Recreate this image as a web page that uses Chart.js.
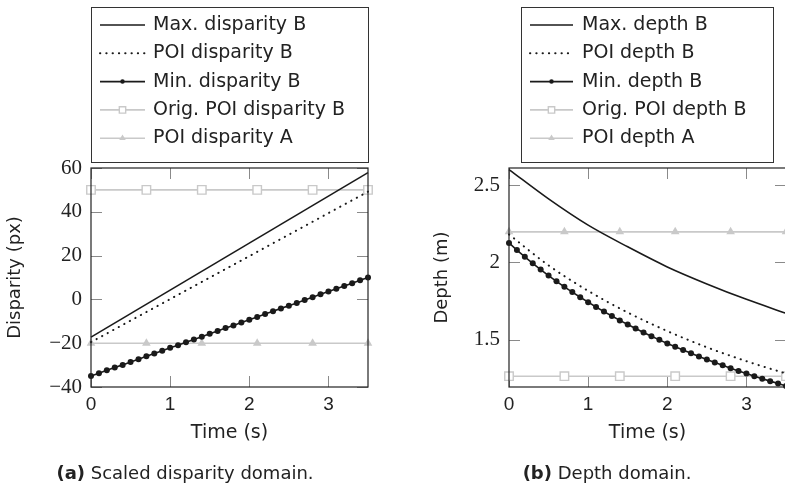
<!DOCTYPE html>
<html>
<head>
<meta charset="utf-8">
<script src="https://cdn.jsdelivr.net/npm/chart.js@4.4.1/dist/chart.umd.min.js"></script>
<style>
html, body { margin:0; padding:0; background:#fff; overflow:hidden; width:785px; height:487px; }
#c1 { position:absolute; left:0; top:0; }
#c2 { position:absolute; left:400px; top:0; }
.cap { position:absolute; top:462px; font-family:"DejaVu Sans"; font-size:18px; color:#222; white-space:nowrap; transform:translateX(-50%); }
</style>
</head>
<body>
<canvas id="c1" width="400" height="487"></canvas>
<canvas id="c2" width="400" height="487"></canvas>
<div class="cap" style="left:185px"><b>(a)</b> Scaled disparity domain.</div>
<div class="cap" style="left:607px"><b>(b)</b> Depth domain.</div>
<script>
// ---- data ----
var xTicks = [0, 1, 2, 3];
var dispTicks = [-40, -20, 0, 20, 40, 60];
var depthTicks = [1.5, 2, 2.5];

var dispLabels = ['Max. disparity B', 'POI disparity B', 'Min. disparity B', 'Orig. POI disparity B', 'POI disparity A'];
var depthLabels = ['Max. depth B', 'POI depth B', 'Min. depth B', 'Orig. POI depth B', 'POI depth A'];

var lineT = [0, 3.5];
var maxDisp = [-17.2, 57.9];
var poiDisp = [-19.5, 49.2];

var markT = [0, 0.7, 1.4, 2.1, 2.8, 3.5];
var origPoiDisp = [50, 50, 50, 50, 50, 50];
var poiDispA = [-20, -20, -20, -20, -20, -20];

var minT = [0, 0.1, 0.2, 0.3, 0.4, 0.5, 0.6, 0.7, 0.8, 0.9, 1, 1.1, 1.2, 1.3, 1.4, 1.5, 1.6, 1.7,
            1.8, 1.9, 2, 2.1, 2.2, 2.3, 2.4, 2.5, 2.6, 2.7, 2.8, 2.9, 3, 3.1, 3.2, 3.3, 3.4, 3.5];
var minDisp = [-35, -33.7, -32.4, -31.1, -29.9, -28.6, -27.3, -26, -24.7, -23.4, -22.1, -20.9,
               -19.6, -18.3, -17, -15.7, -14.4, -13.1, -11.9, -10.6, -9.3, -8, -6.7, -5.4,
               -4.1, -2.9, -1.6, -0.3, 1, 2.3, 3.6, 4.9, 6.1, 7.4, 8.7, 10];

var curveT = [0, 0.5, 1, 1.5, 2, 2.5, 3, 3.5];
var maxDepth = [2.60, 2.41, 2.24, 2.10, 1.97, 1.86, 1.76, 1.67];
var poiDepth = [2.18, 1.98, 1.815, 1.675, 1.555, 1.45, 1.36, 1.28];
var minDepth = [2.125, 2.079, 2.035, 1.993, 1.953, 1.914, 1.877, 1.841, 1.807, 1.774, 1.742, 1.711,
                1.681, 1.652, 1.624, 1.597, 1.571, 1.546, 1.522, 1.498, 1.475, 1.453, 1.432, 1.411,
                1.390, 1.371, 1.351, 1.333, 1.315, 1.297, 1.280, 1.263, 1.247, 1.231, 1.215, 1.200];
var origPoiDepth = [1.263, 1.263, 1.263, 1.263, 1.263, 1.263];
var poiDepthA = [2.197, 2.197, 2.197, 2.197, 2.197, 2.197];

// ---- helpers ----
var BLACK = '#1a1a1a';
var GRAY = '#c9c9c9';
var SANS = '"DejaVu Sans", sans-serif';
var TICKSANS = '"Liberation Sans", Arial, sans-serif';
var SERIF = '"Liberation Serif", "Times New Roman", serif';

function pts(xs, ys) {
  var out = [];
  for (var i = 0; i < xs.length; i++) out.push({x: xs[i], y: ys[i]});
  return out;
}

function makeSets(labels, maxD, poiD, minD, origD, aD, curveX, smooth) {
  var mode = smooth ? 'monotone' : 'default';
  return [
    { label: labels[0], data: pts(curveX, maxD), borderColor: BLACK, borderWidth: 1.6,
      pointRadius: 0, cubicInterpolationMode: mode, clip: false },
    { label: labels[1], data: pts(curveX, poiD), borderColor: BLACK, borderWidth: 2,
      borderDash: [0.3, 6], borderCapStyle: 'round', pointRadius: 0, cubicInterpolationMode: mode, clip: false },
    { label: labels[2], data: pts(minT, minD), borderColor: BLACK, borderWidth: 1.6,
      pointRadius: 3, pointStyle: 'circle', pointBackgroundColor: BLACK, pointBorderColor: BLACK,
      pointBorderWidth: 0, clip: false },
    { label: labels[3], data: pts(markT, origD), borderColor: GRAY, borderWidth: 1.6,
      pointRadius: 6, pointStyle: 'rect', pointBackgroundColor: '#fff', pointBorderColor: GRAY,
      pointBorderWidth: 1.4, clip: false },
    { label: labels[4], data: pts(markT, aD), borderColor: GRAY, borderWidth: 1.6,
      pointRadius: 5, pointStyle: 'triangle', pointBackgroundColor: GRAY, pointBorderColor: GRAY,
      pointBorderWidth: 0, clip: false }
  ];
}

// frame + inside tick marks on all four sides
var framePlugin = {
  id: 'frame',
  beforeDatasetsDraw: function(chart) {
    var ctx = chart.ctx, a = chart.chartArea, len = 11;
    ctx.save();
    ctx.strokeStyle = '#8a8a8a';
    ctx.lineWidth = 1;
    ctx.beginPath();
    chart.scales.x.ticks.forEach(function(t) {
      var px = Math.round(chart.scales.x.getPixelForValue(t.value)) + 0.5;
      ctx.moveTo(px, a.bottom); ctx.lineTo(px, a.bottom - len);
      ctx.moveTo(px, a.top); ctx.lineTo(px, a.top + len);
    });
    chart.scales.y.ticks.forEach(function(t) {
      var py = Math.round(chart.scales.y.getPixelForValue(t.value)) + 0.5;
      ctx.moveTo(a.left, py); ctx.lineTo(a.left + len, py);
      ctx.moveTo(a.right, py); ctx.lineTo(a.right - len, py);
    });
    ctx.stroke();
    ctx.restore();
  },
  afterDatasetsDraw: function(chart) {
    var ctx = chart.ctx, a = chart.chartArea;
    ctx.save();
    ctx.strokeStyle = '#222';
    ctx.lineWidth = 1.2;
    ctx.strokeRect(a.left, a.top, a.right - a.left, a.bottom - a.top);
    ctx.restore();
  }
};

function legendPlugin(lg) {
  return {
    id: 'boxLegend',
    afterDraw: function(chart) {
      var ctx = chart.ctx;
      ctx.save();
      ctx.strokeStyle = '#333';
      ctx.lineWidth = 1;
      ctx.strokeRect(lg.x + 0.5, lg.y + 0.5, lg.w, lg.h);
      chart.data.datasets.forEach(function(ds, i) {
        var y = lg.row0 + i * lg.step;
        ctx.save();
        ctx.strokeStyle = ds.borderColor;
        ctx.lineWidth = ds.borderWidth;
        ctx.setLineDash(ds.borderDash || []);
        ctx.lineCap = ds.borderCapStyle || 'butt';
        ctx.beginPath();
        ctx.moveTo(lg.x1, y);
        ctx.lineTo(lg.x2, y);
        ctx.stroke();
        ctx.restore();
        if (ds.pointRadius > 0) {
          ctx.save();
          ctx.fillStyle = ds.pointBackgroundColor;
          ctx.strokeStyle = ds.pointBorderColor;
          ctx.lineWidth = ds.pointBorderWidth;
          Chart.helpers.drawPoint(ctx, {pointStyle: ds.pointStyle, radius: ds.pointRadius * 0.75,
            borderWidth: ds.pointBorderWidth, rotation: 0}, (lg.x1 + lg.x2) / 2, y);
          ctx.restore();
        }
        ctx.fillStyle = '#222';
        ctx.font = '19px ' + SANS;
        ctx.textBaseline = 'middle';
        ctx.textAlign = 'left';
        ctx.fillText(ds.label, lg.tx, y);
      });
      ctx.restore();
    }
  };
}

function makeChart(id, sets, yMin, yMax, yTicks, yTitle, pad, yWidth, lg) {
  return new Chart(document.getElementById(id), {
    type: 'line',
    data: { datasets: sets },
    options: {
      responsive: false,
      animation: false,
      events: [],
      devicePixelRatio: 1,
      layout: { padding: pad },
      plugins: { legend: { display: false }, tooltip: { enabled: false } },
      scales: {
        x: {
          type: 'linear', min: 0, max: 3.5,
          afterBuildTicks: function(s) { s.ticks = xTicks.map(function(v) { return {value: v}; }); },
          afterFit: function(s) { s.height = 60; },
          grid: { display: false, drawTicks: false },
          border: { display: false },
          ticks: { padding: 6, autoSkip: false, maxRotation: 0, color: '#222',
                   font: { family: TICKSANS, size: 19 }, callback: function(v) { return String(v); } },
          title: { display: true, text: 'Time (s)', color: '#222',
                   font: { family: SANS, size: 19 }, padding: { top: 0, bottom: 3 } }
        },
        y: {
          type: 'linear', min: yMin, max: yMax,
          afterBuildTicks: function(s) { s.ticks = yTicks.map(function(v) { return {value: v}; }); },
          afterFit: function(s) { s.width = yWidth; },
          grid: { display: false, drawTicks: false },
          border: { display: false },
          ticks: { padding: 9, autoSkip: false, color: '#222',
                   font: { family: SERIF, size: 21 },
                   callback: function(v) { return String(v).replace('-', '\u2212'); } },
          title: { display: true, text: yTitle, color: '#222',
                   font: { family: SANS, size: 18 }, padding: { top: 5, bottom: 0 } }
        }
      }
    },
    plugins: [framePlugin, legendPlugin(lg)]
  });
}

makeChart('c1',
  makeSets(dispLabels, maxDisp, poiDisp, minDisp, origPoiDisp, poiDispA, lineT, false),
  -40, 60, dispTicks, 'Disparity (px)',
  { left: 0, right: 32, top: 168, bottom: 40 }, 91,
  { x: 91, y: 7, w: 277, h: 155, x1: 100, x2: 145, tx: 153, row0: 25, step: 28.3 });

makeChart('c2',
  makeSets(depthLabels, maxDepth, poiDepth, minDepth, origPoiDepth, poiDepthA, curveT, true),
  1.193, 2.61, depthTicks, 'Depth (m)',
  { left: 27, right: 14, top: 168, bottom: 40 }, 82,
  { x: 121, y: 7, w: 252, h: 155, x1: 130, x2: 173, tx: 182, row0: 25, step: 28.3 });
</script>
</body>
</html>
